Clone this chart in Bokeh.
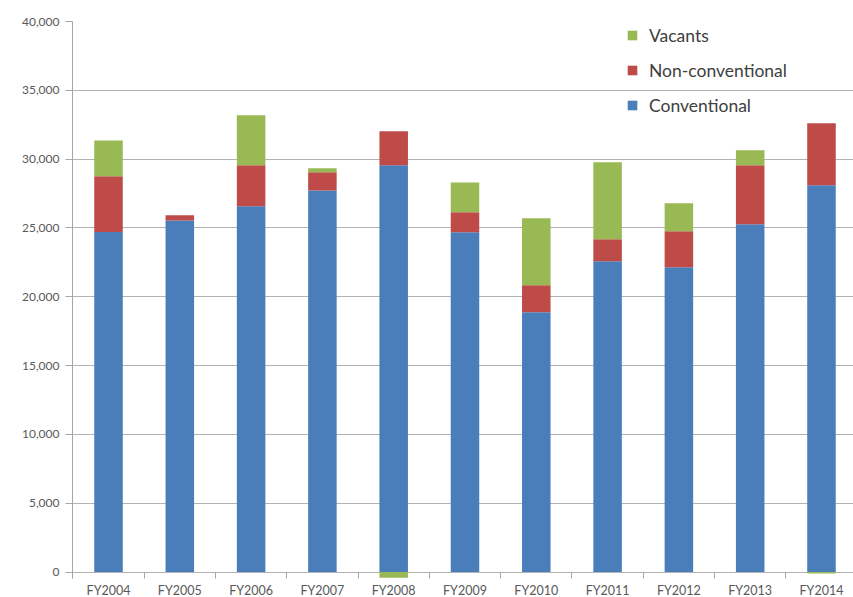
import numpy as np
from bokeh.plotting import figure
from bokeh.models import (ColumnDataSource, Range1d, FixedTicker, NumeralTickFormatter,
                          Legend, LegendItem)
from bokeh.embed import file_html
from bokeh.resources import INLINE

# Housing units by fiscal year
years = ["FY2004", "FY2005", "FY2006", "FY2007", "FY2008", "FY2009",
         "FY2010", "FY2011", "FY2012", "FY2013", "FY2014"]
conventional = [24700, 25550, 26570, 27730, 29550, 24680, 18880, 22580, 22140, 25260, 28100]
non_conventional = [4050, 370, 2980, 1310, 2470, 1460, 1960, 1600, 2620, 4290, 4500]
vacants = [2600, 0, 3630, 290, -420, 2170, 4860, 5590, 2030, 1090, -100]
y_ticks = [0, 5000, 10000, 15000, 20000, 25000, 30000, 35000, 40000]

BLUE = "#4A7EBB"
RED = "#BE4B48"
GREEN = "#98B954"
FONT = "Lato"

x = np.arange(len(years))
conv = np.array(conventional, dtype=float)
non = np.array(non_conventional, dtype=float)
vac = np.array(vacants, dtype=float)

# Positive values stack upward; negative vacants hang below zero
non_bottom = conv
non_top = conv + non
vac_bottom = np.where(vac >= 0, non_top, 0.0)
vac_top = np.where(vac >= 0, non_top + vac, vac)

src = ColumnDataSource(dict(
    x=x, conv_top=conv, non_bottom=non_bottom, non_top=non_top,
    vac_bottom=vac_bottom, vac_top=vac_top,
))

p = figure(width=853, height=600, output_backend="svg", toolbar_location=None,
           x_range=Range1d(-0.505, 10.449), y_range=Range1d(-470, 40000),
           min_border_left=72, min_border_right=0, min_border_top=21, min_border_bottom=0)
p.outline_line_color = None
p.background_fill_color = "white"
p.border_fill_color = "white"

w = 0.4
r_conv = p.vbar(x="x", bottom=0, top="conv_top", width=w, source=src,
                fill_color=BLUE, line_color=None)
r_non = p.vbar(x="x", bottom="non_bottom", top="non_top", width=w, source=src,
               fill_color=RED, line_color=None)
r_vac = p.vbar(x="x", bottom="vac_bottom", top="vac_top", width=w, source=src,
               fill_color=GREEN, line_color=None)

# Y axis
yax = p.yaxis[0]
yax.ticker = FixedTicker(ticks=y_ticks)
yax.formatter = NumeralTickFormatter(format="0,0")
yax.axis_line_color = "#A6A6A6"
yax.major_tick_line_color = "#A6A6A6"
yax.major_tick_out = 7
yax.major_tick_in = 0
yax.minor_tick_line_color = None
yax.major_label_standoff = 6
yax.major_label_text_font = FONT
yax.major_label_text_font_size = "12px"
yax.major_label_text_color = "#595959"

# X axis: labels under each bar, small ticks between categories
xax = p.xaxis[0]
xax.ticker = FixedTicker(ticks=list(x), minor_ticks=list(np.arange(-0.5, len(years), 1.0)))
xax.major_label_overrides = {int(i): years[i] for i in x}
xax.axis_line_color = None
xax.major_tick_line_color = None
xax.major_tick_out = 0
xax.major_tick_in = 0
xax.minor_tick_line_color = "#A6A6A6"
xax.minor_tick_in = 6
xax.minor_tick_out = 0
xax.major_label_standoff = 4
xax.major_label_text_font = FONT
xax.major_label_text_font_size = "12.5px"
xax.major_label_text_color = "#595959"

p.xgrid.grid_line_color = None
p.ygrid.ticker = FixedTicker(ticks=y_ticks)
p.ygrid.grid_line_color = "#B3B3B3"
p.ygrid.grid_line_width = 1

legend = Legend(items=[
    LegendItem(label="Vacants", renderers=[r_vac]),
    LegendItem(label="Non-conventional", renderers=[r_non]),
    LegendItem(label="Conventional", renderers=[r_conv]),
], location=(554, 462))
legend.background_fill_alpha = 0
legend.border_line_color = None
legend.padding = 0
legend.margin = 0
legend.spacing = 13
legend.glyph_width = 12
legend.glyph_height = 12
legend.label_height = 22
legend.label_standoff = 11
legend.label_text_font = FONT
legend.label_text_font_size = "17.5px"
legend.label_text_color = "#404040"
legend.label_text_baseline = "middle"
p.add_layout(legend, "center")

open("out.html", "w").write(file_html(p, INLINE))
